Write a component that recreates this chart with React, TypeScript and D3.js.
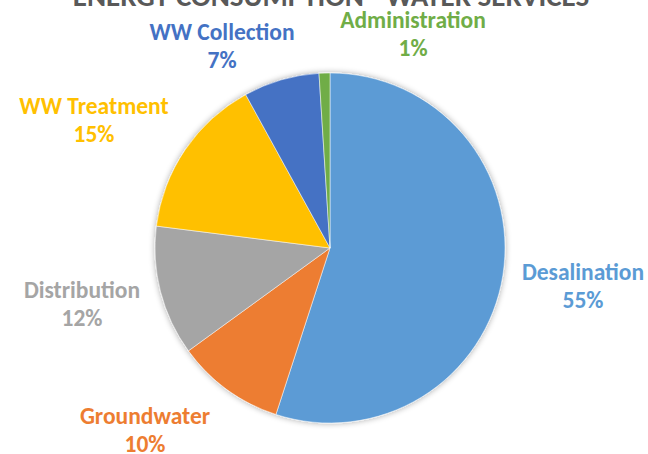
import React from "react";
import * as d3 from "d3";

const categories = ["Desalination", "Groundwater", "Distribution", "WW Treatment", "WW Collection", "Administration"];
const values = [55, 10, 12, 15, 7, 1];
const colors = ["#5B9BD5", "#ED7D31", "#A5A5A5", "#FFC000", "#4472C4", "#70AD47"];
const labelPos: [number, number][] = [
  [583, 280],
  [145, 424],
  [82, 298],
  [94, 114],
  [222, 40],
  [413, 28],
];
const title = "ENERGY CONSUMPTION - WATER SERVICES";

export default function App() {
  const W = 648, H = 454;
  const cx = 330, cy = 248, r = 175;
  const data = categories.map((c, i) => ({ c, v: values[i], color: colors[i], pos: labelPos[i] }));
  const pie = d3.pie<any>().value((d) => d.v).sort(null).startAngle(0).endAngle(2 * Math.PI);
  const arc = d3.arc<any>().innerRadius(0).outerRadius(r);
  const arcs = pie(data);
  const font = "Carlito, Calibri, 'Open Sans', sans-serif";
  return (
    <svg width={W} height={H} style={{ position: "absolute", left: 0, top: 0 }} fontFamily={font}>
      <defs>
        <filter id="sh" x="-20%" y="-20%" width="140%" height="140%">
          <feGaussianBlur in="SourceAlpha" stdDeviation="3" />
          <feOffset dx="0" dy="0" result="b" />
          <feComponentTransfer><feFuncA type="linear" slope="0.35" /></feComponentTransfer>
          <feMerge><feMergeNode /><feMergeNode in="SourceGraphic" /></feMerge>
        </filter>
      </defs>
      <rect width={W} height={H} fill="#fff" />
      <text x={331} y={6} textAnchor="middle" fontSize={29} fontWeight="bold" fill="#595959">{title}</text>
      <g transform={`translate(${cx},${cy})`} filter="url(#sh)">
        {arcs.map((a, i) => (
          <path key={i} d={arc(a) as string} fill={a.data.color} stroke="#fff" strokeWidth={0.5} />
        ))}
      </g>
      {data.map((d, i) => (
        <text key={i} textAnchor="middle" fontSize={23.5} fontWeight="bold" fill={d.color}>
          <tspan x={d.pos[0]} y={d.pos[1]}>{d.c}</tspan>
          <tspan x={d.pos[0]} y={d.pos[1] + 28}>{d.v}%</tspan>
        </text>
      ))}
    </svg>
  );
}
